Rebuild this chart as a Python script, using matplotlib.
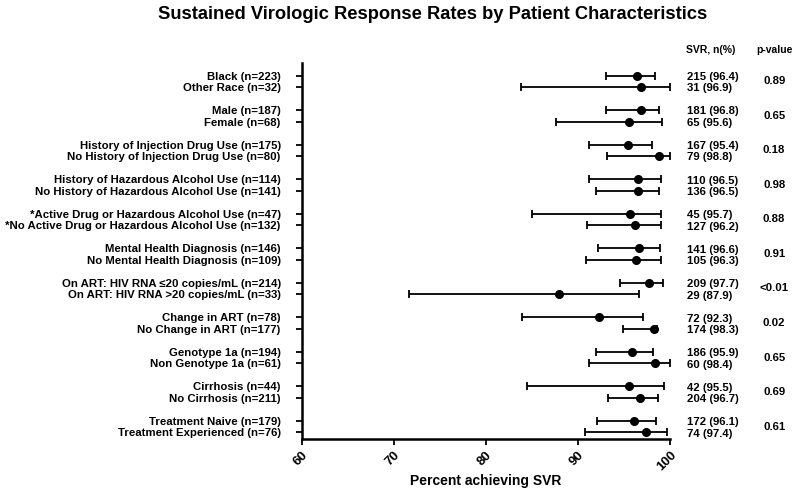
import matplotlib
matplotlib.use("Agg")
import matplotlib.pyplot as plt

plt.rcParams['font.family'] = ['Liberation Sans', 'DejaVu Sans']
plt.rcParams['font.weight'] = 'bold'

# data
labels = [
    "Black (n=223)", "Other Race (n=32)",
    "Male (n=187)", "Female (n=68)",
    "History of Injection Drug Use (n=175)", "No History of Injection Drug Use (n=80)",
    "History of Hazardous Alcohol Use (n=114)", "No History of Hazardous Alcohol Use (n=141)",
    "*Active Drug or Hazardous Alcohol Use (n=47)", "*No Active Drug or Hazardous Alcohol Use (n=132)",
    "Mental Health Diagnosis (n=146)", "No Mental Health Diagnosis (n=109)",
    "On ART: HIV RNA \u226420 copies/mL (n=214)", "On ART: HIV RNA >20 copies/mL (n=33)",
    "Change in ART (n=78)", "No Change in ART (n=177)",
    "Genotype 1a (n=194)", "Non Genotype 1a (n=61)",
    "Cirrhosis (n=44)", "No Cirrhosis (n=211)",
    "Treatment Naive (n=179)", "Treatment Experienced (n=76)",
]
svr = [96.4, 96.9, 96.8, 95.6, 95.4, 98.8, 96.5, 96.5, 95.7, 96.2, 96.6, 96.3,
       97.7, 87.9, 92.3, 98.3, 95.9, 98.4, 95.5, 96.7, 96.1, 97.4]
ci_low = [93.1, 83.8, 93.1, 87.6, 91.2, 93.2, 91.2, 92.0, 85.0, 91.0, 92.2, 90.9,
          94.6, 71.7, 83.9, 94.9, 92.0, 91.2, 84.5, 93.3, 92.1, 90.8]
ci_high = [98.4, 100.0, 98.8, 99.1, 98.0, 100.0, 99.0, 98.8, 99.0, 99.0, 98.9, 99.0,
           99.2, 96.6, 97.1, 98.6, 98.2, 100.0, 99.4, 98.7, 98.5, 99.7]
svr_n = [215, 31, 181, 65, 167, 79, 110, 136, 45, 127, 141, 105,
         209, 29, 72, 174, 186, 60, 42, 204, 172, 74]
p_values = ["0.89", "0.65", "0.18", "0.98", "0.88", "0.91", "<0.01", "0.02", "0.65", "0.69", "0.61"]

# rows: two per group, gap between groups
ypos = []
for i in range(len(labels)):
    g, k = divmod(i, 2)
    ypos.append(3 * g + k)

fig = plt.figure(figsize=(8, 4.95), dpi=100)
ax = fig.add_axes([0.377, 0.113, 0.4605, 0.76])

xerr = [[s - lo for s, lo in zip(svr, ci_low)], [hi - s for s, hi in zip(svr, ci_high)]]
ax.errorbar(svr, ypos, xerr=xerr, fmt='o', color='black', ms=5.5,
            elinewidth=1.3, capsize=3, capthick=1.3)

ax.set_xlim(60, 100)
ax.set_ylim(31.58, -1.1)
ax.set_xticks([60, 70, 80, 90, 100])
ax.set_xticklabels(["60", "70", "80", "90", "100"], rotation=45, ha='right',
                   rotation_mode='anchor', fontsize=9.5, fontweight='bold')
ax.set_yticks(ypos)
ax.set_yticklabels(labels, fontsize=8.2, fontweight='bold')
ax.tick_params(axis='both', direction='out', length=4, width=1.3)
ax.tick_params(axis='y', pad=11)
for side in ['top', 'right']:
    ax.spines[side].set_visible(False)
for side in ['left', 'bottom']:
    ax.spines[side].set_linewidth(1.8)

ax.set_xlabel("Percent achieving SVR", fontsize=10, fontweight='bold')
ax.xaxis.set_label_coords(0.5, -0.093)

# right side columns
for y, n, s in zip(ypos, svr_n, svr):
    ax.annotate(f"{n} ({s})", xy=(1.0, y), xycoords=('axes fraction', 'data'),
                xytext=(12, -1), textcoords='offset points', ha='left', va='center',
                fontsize=8.2, fontweight='bold', annotation_clip=False)
for g, p in enumerate(p_values):
    ax.annotate(p, xy=(1.0, 3 * g + 0.5), xycoords=('axes fraction', 'data'),
                xytext=(75, 0), textcoords='offset points', ha='center', va='center',
                fontsize=8.2, fontweight='bold', annotation_clip=False)

fig.text(0.8575, 0.899, "SVR, n(%)", ha='left', va='center', fontsize=7.5, fontweight='bold')
fig.text(0.9675, 0.899, "p-value", ha='center', va='center', fontsize=7.5, fontweight='bold')

fig.suptitle("Sustained Virologic Response Rates by Patient Characteristics",
             x=0.541, y=0.97, va='center', fontsize=13.2, fontweight='bold')

fig.savefig("out.png", dpi=100)
